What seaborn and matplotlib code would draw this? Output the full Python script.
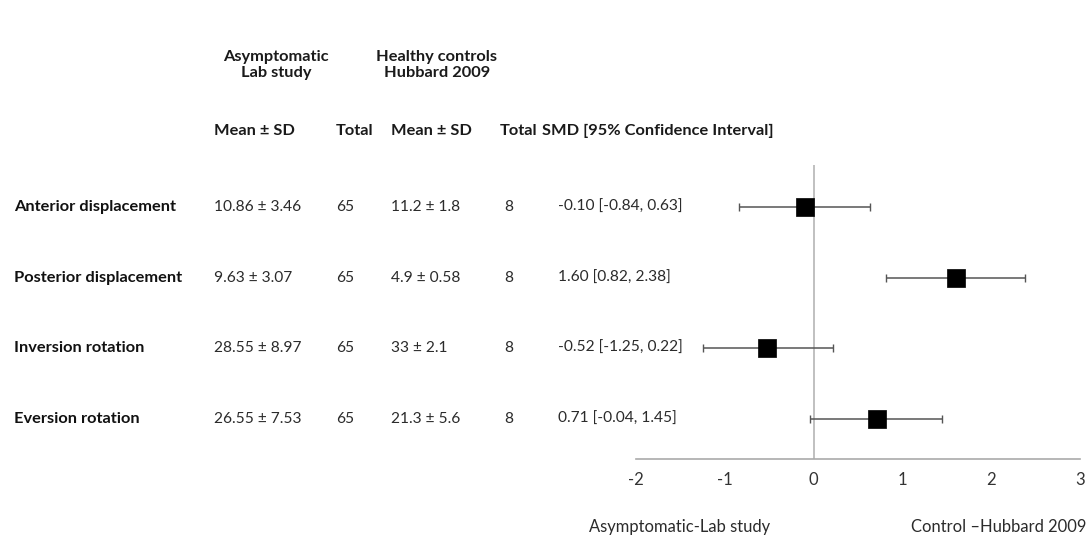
import matplotlib
matplotlib.use("Agg")
import matplotlib.pyplot as plt
import matplotlib.transforms as mtransforms
import seaborn as sns
import pandas as pd

outcomes = ["Anterior displacement", "Posterior displacement",
            "Inversion rotation", "Eversion rotation"]
lab_mean_sd = ["10.86 ± 3.46", "9.63 ± 3.07", "28.55 ± 8.97", "26.55 ± 7.53"]
lab_total = [65, 65, 65, 65]
ctrl_mean_sd = ["11.2 ± 1.8", "4.9 ± 0.58", "33 ± 2.1", "21.3 ± 5.6"]
ctrl_total = [8, 8, 8, 8]
smd = [-0.10, 1.60, -0.52, 0.71]
ci_low = [-0.84, 0.82, -1.25, -0.04]
ci_high = [0.63, 2.38, 0.22, 1.45]
x_ticks = [-2, -1, 0, 1, 2, 3]

sns.set_theme(style="white")
plt.rcParams["font.family"] = ["Lato", "DejaVu Sans"]

W, H = 1089, 537
fig = plt.figure(figsize=(W / 100, H / 100), dpi=100)
fig.patch.set_facecolor("white")

def fx(px):
    return px / W

def fy(py):
    return 1 - py / H

# forest plot panel
ax = fig.add_axes([fx(636), fy(459), fx(1080) - fx(636), fy(165) - fy(459)])
row_top, row_step = 207, 70.67
ax.set_xlim(-2, 3)
ax.set_ylim((459 - row_top) / row_step, (165 - row_top) / row_step)

df = pd.DataFrame({"outcome": outcomes, "row": range(len(outcomes)),
                   "smd": smd, "lo": ci_low, "hi": ci_high})

ax.axvline(0, color="#b5b5b5", lw=1.2, zorder=1)
ax.errorbar(df["smd"], df["row"],
            xerr=[df["smd"] - df["lo"], df["hi"] - df["smd"]],
            fmt="none", ecolor="#555555", elinewidth=1.1, capsize=3,
            capthick=1.0, zorder=2)
sns.scatterplot(data=df, x="smd", y="row", marker="s", s=150,
                color="black", edgecolor="black", linewidth=0.5,
                ax=ax, zorder=3, legend=False)

for side in ["top", "left", "right"]:
    ax.spines[side].set_visible(False)
ax.spines["bottom"].set_color("#aaaaaa")
ax.spines["bottom"].set_linewidth(1.2)
ax.set_xticks(x_ticks)
ax.set_xticklabels([str(t) for t in x_ticks])
ax.tick_params(axis="x", direction="inout", length=7, width=1.0,
               color="#aaaaaa", labelsize=12, labelcolor="#333333", pad=6)
ax.set_yticks([])
ax.set_xlabel("")
ax.set_ylabel("")
ax.patch.set_alpha(0)

# table text, rows aligned to the forest plot rows
trans = mtransforms.blended_transform_factory(fig.transFigure, ax.transData)
txt = dict(transform=trans, va="center", fontsize=11.2, color="#2b2b2b",
           clip_on=False)
for i in range(len(outcomes)):
    ax.text(fx(14), i, outcomes[i], fontweight="bold",
            **{**txt, "color": "#111111", "fontsize": 11.8})
    ax.text(fx(214), i, lab_mean_sd[i], **txt)
    ax.text(fx(336), i, str(lab_total[i]), **txt)
    ax.text(fx(391), i, ctrl_mean_sd[i], **txt)
    ax.text(fx(504), i, str(ctrl_total[i]), **txt)
    ax.text(fx(558), i,
            f"{smd[i]:.2f} [{ci_low[i]:.2f}, {ci_high[i]:.2f}]", **txt)

hdr = dict(fontsize=11.8, fontweight="bold", color="#1a1a1a", va="center")
fig.text(fx(276), fy(65), "Asymptomatic\nLab study", ha="center",
         linespacing=1.1, **hdr)
fig.text(fx(437), fy(65), "Healthy controls\nHubbard 2009", ha="center",
         linespacing=1.1, **hdr)
fig.text(fx(214), fy(131), "Mean ± SD", ha="left", **hdr)
fig.text(fx(336), fy(131), "Total", ha="left", **hdr)
fig.text(fx(391), fy(131), "Mean ± SD", ha="left", **hdr)
fig.text(fx(500), fy(131), "Total", ha="left", **hdr)
fig.text(fx(542), fy(131), "SMD [95% Confidence Interval]", ha="left", **hdr)

foot = dict(fontsize=11.9, color="#2b2b2b", va="center")
fig.text(fx(680), fy(527), "Asymptomatic-Lab study", ha="center", **foot)
fig.text(fx(1086), fy(527), "Control \u2013Hubbard 2009", ha="right", **foot)

fig.savefig("out.png", dpi=100, facecolor="white")
